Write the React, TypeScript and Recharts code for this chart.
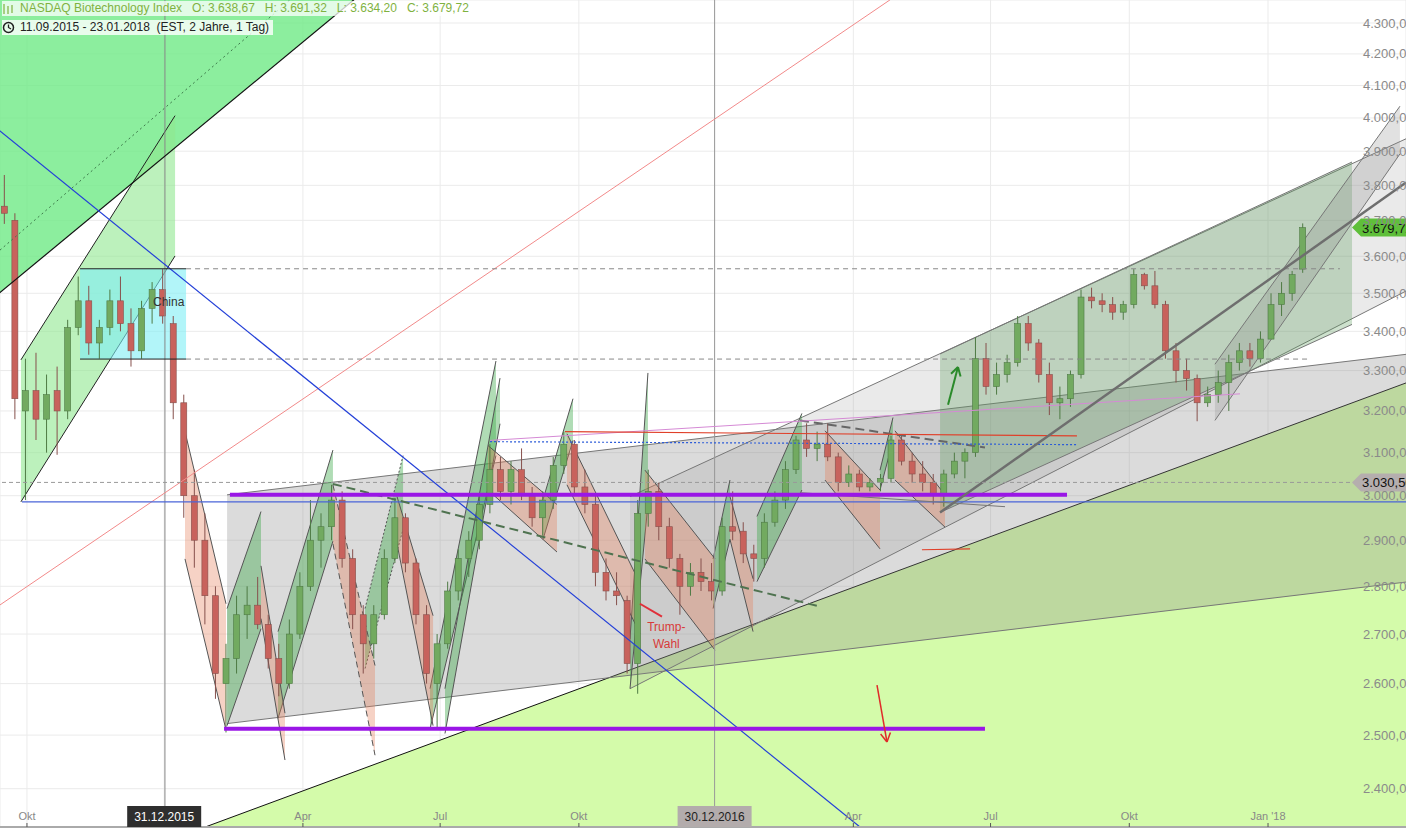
import React from 'react';
import {
  ComposedChart,
  Area,
  Bar,
  XAxis,
  YAxis,
  CartesianGrid,
  ReferenceLine,
  ReferenceArea,
  ReferenceDot,
} from 'recharts';

const W = 1406;
const H = 830;

// x axis = days after 11.09.2015
const timeTicks = [20, 111, 203, 294, 386, 476, 568, 659, 751, 843];
const timeLabels = ['Okt', '31.12.2015', 'Apr', 'Jul', 'Okt', '30.12.2016', 'Apr', 'Jul', 'Okt', "Jan '18"];
const priceTicks = [2400, 2500, 2600, 2700, 2800, 2900, 3000, 3100, 3200, 3300, 3400, 3500, 3600, 3700, 3800, 3900, 4000, 4100, 4200, 4300];

// weekly candles, week of 14.09.2015 ... week of 22.01.2018
const opens = [
  3740, 3700, 3200, 3250, 3180, 3250, 3200, 3410, 3480, 3370,
  3410, 3480, 3420, 3350, 3460, 3510, 3420, 3220, 3000, 2900,
  2780, 2600, 2650, 2740, 2760, 2720, 2650, 2600, 2700, 2800,
  2900, 2930, 2990, 2860, 2740, 2680, 2740, 2860, 2950, 2850,
  2740, 2600, 2680, 2790, 2860, 2900, 2980, 3060, 3010, 3060,
  3000, 2950, 2990, 3070, 3120, 3020, 2980, 2830, 2790, 2770,
  2640, 2960, 3010, 2930, 2860, 2800, 2830, 2810, 2790, 2930,
  2920, 2870, 2860, 2940, 2990, 3060, 3130, 3110, 3120, 3090,
  3030, 3050, 3020, 3030, 3040, 3130, 3080, 3050, 3030, 3000,
  3050, 3080, 3100, 3330, 3260, 3290, 3320, 3420, 3370, 3290,
  3220, 3230, 3290, 3490, 3480, 3470, 3450, 3470, 3550, 3520,
  3470, 3350, 3300, 3280, 3220, 3240, 3270, 3320, 3350, 3330,
  3380, 3470, 3500, 3565,
];
const highs = [
  3830, 3720, 3330, 3345, 3290, 3310, 3430, 3545, 3520, 3430,
  3510, 3545, 3460, 3480, 3530, 3565, 3440, 3240, 3060, 2960,
  2800, 2680, 2780, 2800, 2820, 2740, 2680, 2730, 2830, 2990,
  2960, 3025, 3010, 2880, 2760, 2760, 2880, 2995, 2960, 2860,
  2760, 2700, 2810, 2880, 2920, 3000, 3120, 3090, 3080, 3110,
  3020, 3010, 3090, 3150, 3130, 3060, 3000, 2860, 2830, 2780,
  2990, 3060, 3030, 2950, 2870, 2850, 2860, 2850, 2950, 3010,
  2940, 2890, 2960, 3010, 3080, 3140, 3170, 3150, 3170, 3100,
  3070, 3060, 3040, 3050, 3140, 3140, 3100, 3080, 3050, 3060,
  3100, 3110, 3385, 3370, 3320, 3340, 3440, 3440, 3380, 3320,
  3260, 3300, 3510, 3515, 3500, 3490, 3480, 3565, 3555, 3560,
  3480, 3370, 3330, 3290, 3260, 3300, 3340, 3370, 3370, 3400,
  3500, 3530, 3560, 3691.32,
];
const lows = [
  3690, 3180, 2990, 3130, 3100, 3095, 3180, 3390, 3340, 3330,
  3390, 3400, 3310, 3330, 3420, 3420, 3180, 2950, 2840, 2720,
  2570, 2505, 2620, 2690, 2710, 2630, 2575, 2590, 2690, 2790,
  2840, 2900, 2840, 2710, 2620, 2650, 2730, 2850, 2830, 2720,
  2600, 2515, 2670, 2770, 2820, 2880, 2960, 2990, 2980, 2990,
  2930, 2910, 2970, 3050, 3000, 2960, 2800, 2770, 2760, 2620,
  2580, 2930, 2900, 2840, 2740, 2780, 2790, 2770, 2780, 2900,
  2850, 2810, 2840, 2930, 2970, 3050, 3090, 3080, 3080, 3010,
  3020, 3010, 3010, 3010, 3030, 3070, 3030, 3010, 2980, 2975,
  3040, 3040, 3090, 3240, 3240, 3270, 3310, 3350, 3270, 3190,
  3180, 3210, 3280, 3460, 3450, 3430, 3430, 3460, 3510, 3460,
  3330, 3270, 3250, 3175, 3210, 3220, 3200, 3300, 3310, 3320,
  3380, 3440, 3480, 3555,
];
const closes = [
  3720, 3230, 3250, 3180, 3240, 3200, 3410, 3480, 3370, 3410,
  3480, 3420, 3350, 3460, 3510, 3440, 3220, 3000, 2900, 2780,
  2620, 2650, 2740, 2760, 2720, 2650, 2600, 2700, 2800, 2900,
  2930, 2990, 2860, 2740, 2680, 2740, 2860, 2950, 2850, 2740,
  2620, 2680, 2790, 2860, 2900, 2980, 3060, 3010, 3060, 3000,
  2950, 2990, 3070, 3120, 3020, 2980, 2830, 2790, 2780, 2640,
  2960, 3010, 2930, 2860, 2800, 2830, 2810, 2790, 2930, 2920,
  2870, 2860, 2940, 2990, 3060, 3130, 3110, 3120, 3090, 3030,
  3050, 3020, 3030, 3040, 3130, 3080, 3050, 3030, 3000, 3050,
  3080, 3100, 3330, 3260, 3290, 3320, 3420, 3370, 3290, 3220,
  3230, 3290, 3490, 3480, 3470, 3450, 3470, 3550, 3520, 3470,
  3350, 3300, 3280, 3220, 3240, 3270, 3320, 3350, 3330, 3380,
  3470, 3500, 3550, 3679.72,
];

const candles = opens.map((o, i) => ({ t: 5 + 7 * i, o, h: highs[i], l: lows[i], c: closes[i] }));

// drawn zones: [start day, end day, upper start, upper end, lower start, lower end]
const fanZone = [0, 240, 6000, 6000, 3495, 4390];
const autumnChannel = [16, 118.2, 3327, 4007, 2986, 3601];
const limeZone = [128.1, 934.5, 2321, 3269, 2000, 2000];
const sideChannel = [152.7, 934.5, 3002, 3341, 2522, 2809];
const trumpChannel = [419.9, 934.5, 2998, 3937, 2590, 3506];
const summerChannel = [625.5, 898.7, 3342, 3868, 2962, 3418];
const steepChannel = [807.8, 930.5, 3316, 4036, 3177, 3892];

const upLegs = [
  [152.7, 175.2, 2753, 2964, 2518, 2711],
  [186.5, 222.9, 2705, 3106, 2532, 2898],
  [244.2, 269.4, 2753, 3093, 2630, 2924],
  [287.3, 331, 2590, 3324, 2512, 3093],
  [297.2, 333.7, 2590, 3281, 2503, 3169],
  [362.2, 382.1, 2991, 3230, 2902, 3129],
  [419.9, 431.8, 2690, 3294, 2590, 2980],
  [475, 486.2, 2859, 3036, 2753, 2902],
  [504.1, 533.9, 2953, 3194, 2810, 3013],
  [585.7, 594.3, 3059, 3184, 3013, 3129],
];
const downLegs = [
  [124.8, 152, 3150, 2763, 2859, 2510],
  [175.2, 191.1, 2844, 2542, 2732, 2453],
  [222.9, 250.8, 3025, 2636, 2892, 2462],
  [265.4, 289.3, 2998, 2738, 2892, 2518],
  [325.7, 371.5, 3117, 2980, 3013, 2874],
  [378.1, 426.5, 3145, 2806, 3025, 2701],
  [429.8, 476.3, 3059, 2859, 2859, 2667],
  [486.2, 501.5, 2998, 2816, 2902, 2705],
  [549.2, 585.7, 3152, 3013, 3036, 2881],
  [595.6, 628.8, 3152, 3002, 3036, 2929],
];

// lines: [day 1, price 1, day 2, price 2]
const chinaBox = [55.2, 125.5, 3566, 3329];
const lines: { p: number[]; c: string; w?: number; dash?: string }[] = [
  { p: [0, 3495, 240, 4390], c: '#111', w: 1.2 },
  { p: [2.1, 3617, 194.4, 4376], c: '#3d7a4a', dash: '2 3' },
  { p: [0, 2756, 598.9, 4399], c: '#f28a8a' },
  { p: [0, 3968, 572.4, 2331], c: '#2440d8', w: 1.2 },
  { p: [16.7, 2986, 934.5, 2986], c: '#4a64d8', w: 1.4 },
  { p: [55.2, 3566, 125.5, 3566], c: '#222' },
  { p: [55.2, 3329, 125.5, 3329], c: '#222' },
  { p: [125.5, 3566, 890.7, 3566], c: '#888', dash: '5 4' },
  { p: [125.5, 3329, 870.8, 3329], c: '#888', dash: '5 4' },
  { p: [222.9, 3027, 545.9, 2757], c: '#4f7350', w: 2, dash: '9 5' },
  { p: [532.6, 3177, 655.3, 3112], c: '#666', w: 2, dash: '9 5' },
  { p: [532.6, 3007, 668.6, 2975], c: '#777' },
  { p: [327.1, 3129, 824.4, 3242], c: '#d58ad5' },
  { p: [327.1, 3126, 716.3, 3119], c: '#2b5bd8', w: 1.2, dash: '2 2' },
  { p: [376.8, 3150, 716.3, 3140], c: '#e0402a', w: 1.2 },
  { p: [613.5, 2879, 645.4, 2881], c: '#e0402a', w: 1.2 },
  { p: [154.6, 3002, 709.7, 3002], c: '#9a16e6', w: 4 },
  { p: [150.7, 2512, 655.3, 2512], c: '#9a16e6', w: 4 },
  { p: [625.5, 2962, 934.5, 3808], c: '#6e6e6e', w: 2.5 },
  { p: [426.5, 2763, 441.1, 2736], c: '#e0303a', w: 2 },
  { p: [630.8, 3215, 637.4, 3309], c: '#2a8a2a', w: 2 },
  { p: [632.8, 3292, 637.4, 3309], c: '#2a8a2a', w: 2 },
  { p: [639.1, 3285, 637.4, 3309], c: '#2a8a2a', w: 2 },
  { p: [583.7, 2597, 590.3, 2487], c: '#e02a2a', w: 1.5 },
  { p: [592.6, 2505, 590.3, 2487], c: '#e02a2a', w: 1.5 },
  { p: [586.1, 2502, 590.3, 2487], c: '#e02a2a', w: 1.5 },
];

const notes = [
  { t: 114, v: 3478, text: 'China', c: '#333' },
  { t: 444, v: 2715, text: 'Trump-', c: '#d83a3a' },
  { t: 444, v: 2680, text: 'Wahl', c: '#d83a3a' },
];

const FONT = 'Liberation Sans, Arial, sans-serif';

const zoneData = (z: number[]) => [
  { t: z[0], lo: z[4], hi: z[2] },
  { t: z[1], lo: z[5], hi: z[3] },
];

const fmt = (v: number) => v.toLocaleString('de-DE', { minimumFractionDigits: 2, maximumFractionDigits: 2 });

const Candle = (props: any) => {
  const { x, y, width, height, payload } = props;
  if (payload == null || height == null) return null;
  const { o, h, l, c } = payload;
  const span = Math.log(h) - Math.log(l) || 1;
  const py = (v: number) => y + (height * (Math.log(h) - Math.log(v))) / span;
  const up = c >= o;
  const top = py(Math.max(o, c));
  const bot = py(Math.min(o, c));
  const cx = x + width / 2;
  const edge = up ? '#4e7a44' : '#86504c';
  return (
    <g>
      <line x1={cx} x2={cx} y1={y} y2={y + height} stroke={edge} strokeWidth={1} />
      <rect x={cx - 3} y={top} width={6} height={Math.max(1, bot - top)} fill={up ? '#72aa60' : '#c8625c'} stroke={edge} strokeWidth={0.6} />
    </g>
  );
};

const TimeTick = (props: any) => {
  const { x, y, payload } = props;
  const label = timeLabels[timeTicks.indexOf(payload.value)];
  if (!label) return null;
  if (label.includes('.')) {
    const dark = label === '31.12.2015';
    return (
      <g>
        <rect x={x - 37} y={y - 21} width={74} height={21} fill={dark ? '#2e2e2e' : '#b3acac'} />
        <text x={x} y={y - 6} textAnchor="middle" fontSize={12} fill={dark ? '#fff' : '#222'} fontFamily={FONT}>{label}</text>
      </g>
    );
  }
  return (
    <g>
      <line x1={x} x2={x} y1={y - 4} y2={y} stroke="#555" />
      <text x={x} y={y - 7} textAnchor="middle" fontSize={11} fill="#888" fontFamily={FONT}>{label}</text>
    </g>
  );
};

const PriceTick = (props: any) => {
  const { x, y, payload } = props;
  return (
    <text x={x - 43} y={y + 4.5} fontSize={13} fill="#8a8a8a" fontFamily={FONT}>{fmt(payload.value)}</text>
  );
};

const Badge = ({ viewBox, text, fill }: any) => {
  if (!viewBox) return null;
  const right = viewBox.x + viewBox.width;
  const x0 = right - 54;
  const yc = viewBox.y;
  return (
    <g>
      <path d={`M${x0} ${yc} L${x0 + 9} ${yc - 9} L${right} ${yc - 9} L${right} ${yc + 9} L${x0 + 9} ${yc + 9} Z`} fill={fill} />
      <text x={x0 + 10} y={yc + 5} fontSize={13} fill="#111" fontFamily={FONT}>{text}</text>
    </g>
  );
};

const zone = (z: number[], key: string, fill: string, opacity: number, stroke = 'none', dash?: string) => (
  <Area
    key={key}
    data={zoneData(z)}
    dataKey={(p: any) => [p.lo, p.hi]}
    type="linear"
    fill={fill}
    fillOpacity={opacity}
    stroke={stroke}
    strokeWidth={1}
    strokeDasharray={dash}
    dot={false}
    activeDot={false}
    isAnimationActive={false}
  />
);

const Header = () => (
  <div style={{ position: 'absolute', left: 2, top: 1, fontFamily: FONT, fontSize: 12, lineHeight: '15px' }}>
    <div style={{ display: 'inline-flex', alignItems: 'center', background: 'rgba(255,255,255,0.75)', color: '#7fb23f', paddingRight: 4 }}>
      <svg width={14} height={12} style={{ marginRight: 4 }}>
        <g stroke="#7fb23f" strokeWidth={1.2}>
          <line x1={2} y1={1} x2={2} y2={11} />
          <line x1={6} y1={3} x2={6} y2={11} />
          <line x1={10} y1={2} x2={10} y2={10} />
        </g>
      </svg>
      NASDAQ Biotechnology Index&nbsp;&nbsp;&nbsp;O: 3.638,67&nbsp;&nbsp;&nbsp;H: 3.691,32&nbsp;&nbsp;&nbsp;L: 3.634,20&nbsp;&nbsp;&nbsp;C: 3.679,72
    </div>
    <br />
    <div style={{ display: 'inline-flex', alignItems: 'center', background: 'rgba(255,255,255,0.8)', color: '#222', paddingRight: 4, marginTop: 1 }}>
      <svg width={14} height={13} style={{ marginRight: 4 }}>
        <circle cx={6.5} cy={6.5} r={5} fill="none" stroke="#222" strokeWidth={1.5} />
        <path d="M6.5 3.5 L6.5 6.5 L9 8" fill="none" stroke="#222" strokeWidth={1.3} />
      </svg>
      11.09.2015 - 23.01.2018&nbsp;&nbsp;(EST, 2 Jahre, 1 Tag)
    </div>
  </div>
);

export default function App() {
  return (
    <div style={{ position: 'absolute', left: 0, top: 0, width: W, height: H, background: '#fff' }}>
      <ComposedChart width={W} height={H} data={candles} margin={{ top: 0, right: 0, bottom: 0, left: 0 }}>
        <CartesianGrid stroke="#ebebeb" />
        <XAxis
          type="number"
          dataKey="t"
          domain={[2.12, 934.5]}
          allowDataOverflow
          ticks={timeTicks}
          interval={0}
          height={3}
          tickSize={0}
          tickMargin={0}
          tick={<TimeTick />}
          axisLine={{ stroke: '#aaa', strokeWidth: 2 }}
        />
        <YAxis
          orientation="right"
          mirror
          scale="log"
          domain={[2331, 4376]}
          allowDataOverflow
          ticks={priceTicks}
          axisLine={false}
          tickLine={false}
          tickSize={0}
          tickMargin={0}
          tick={<PriceTick />}
        />
        {zone(fanZone, 'fan', '#6fea86', 0.8)}
        {zone(limeZone, 'lime', '#d4fbaa', 1, '#111')}
        {zone(autumnChannel, 'autumn', '#8fe88f', 0.6, '#222')}
        {zone(sideChannel, 'side', '#888', 0.3, '#777')}
        {zone(trumpChannel, 'trump', '#888', 0.18, '#777')}
        {zone(summerChannel, 'summer', '#5a9a5a', 0.3, '#777')}
        {zone(steepChannel, 'steep', '#888', 0.25, '#777')}
        <ReferenceArea x1={chinaBox[0]} x2={chinaBox[1]} y1={chinaBox[3]} y2={chinaBox[2]} fill="#7eeef5" fillOpacity={0.6} stroke="none" />
        {upLegs.map((z, i) => zone(z, `up${i}`, '#3aa845', 0.4, '#555', i === 2 ? '2 2' : undefined))}
        {downLegs.map((z, i) => zone(z, `down${i}`, '#e67e5a', 0.35, '#555', i === 2 ? '6 4' : undefined))}
        <ReferenceLine x={111.5} stroke="#888" />
        <ReferenceLine x={476} stroke="#999" />
        {lines.map((l, i) => (
          <ReferenceLine
            key={`l${i}`}
            segment={[{ x: l.p[0], y: l.p[1] }, { x: l.p[2], y: l.p[3] }]}
            stroke={l.c}
            strokeWidth={l.w ?? 1}
            strokeDasharray={l.dash}
            ifOverflow="hidden"
          />
        ))}
        <ReferenceLine
          y={3030.5}
          stroke="#999"
          strokeDasharray="4 3"
          label={(p: any) => <Badge {...p} text="3.030,50" fill="#b5aeae" />}
        />
        <Bar dataKey={(e: any) => [e.l, e.h]} barSize={6} shape={(p: any) => <Candle {...p} />} isAnimationActive={false} />
        {notes.map((n, i) => (
          <ReferenceDot
            key={`n${i}`}
            x={n.t}
            y={n.v}
            r={0}
            fill="none"
            stroke="none"
            label={{ value: n.text, position: 'center', fill: n.c, fontSize: 12, fontFamily: FONT }}
          />
        ))}
        <ReferenceLine
          y={3679.72}
          stroke="none"
          label={(p: any) => <Badge {...p} text="3.679,72" fill="#5fbf3a" />}
        />
      </ComposedChart>
      <Header />
    </div>
  );
}
